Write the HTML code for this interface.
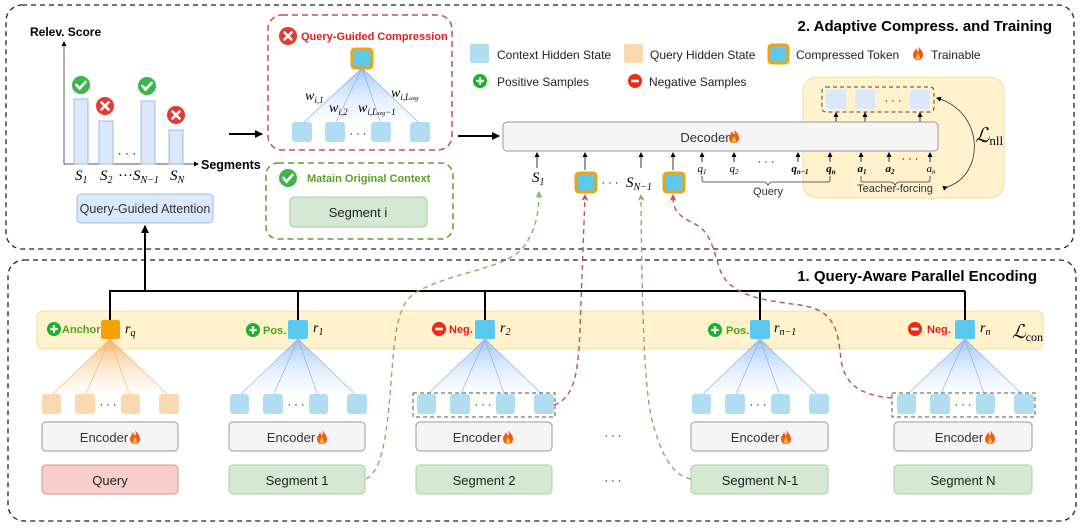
<!DOCTYPE html>
<html><head><meta charset="utf-8"><style>
html,body{margin:0;padding:0;background:#fff;}
svg{display:block;}
.t{font-family:"Liberation Sans",sans-serif;}
.m{font-family:"Liberation Serif",serif;font-style:italic;}
</style></head><body>
<svg width="1080" height="528" viewBox="0 0 1080 528" xmlns="http://www.w3.org/2000/svg">
<defs>
<linearGradient id="gb" x1="0" y1="0" x2="0" y2="1"><stop offset="0" stop-color="#8dbbff" stop-opacity="0.85"/><stop offset="1" stop-color="#dceaff" stop-opacity="0.05"/></linearGradient>
<linearGradient id="go" x1="0" y1="0" x2="0" y2="1"><stop offset="0" stop-color="#f5ad5a" stop-opacity="0.85"/><stop offset="1" stop-color="#fbe6cc" stop-opacity="0.05"/></linearGradient>
<marker id="ah" markerWidth="8" markerHeight="8" refX="7" refY="4" orient="auto" markerUnits="userSpaceOnUse"><path d="M0,0 L8,4 L0,8 z" fill="#000"/></marker>
<marker id="as" markerWidth="5" markerHeight="5" refX="4" refY="2.5" orient="auto" markerUnits="userSpaceOnUse"><path d="M0,0 L5,2.5 L0,5 z" fill="#000"/></marker>
<marker id="ag" markerWidth="7" markerHeight="7" refX="5" refY="3.5" orient="auto" markerUnits="userSpaceOnUse"><path d="M0,0 L7,3.5 L0,7 L2,3.5 z" fill="#82b366"/></marker>
<marker id="ar" markerWidth="7" markerHeight="7" refX="5" refY="3.5" orient="auto" markerUnits="userSpaceOnUse"><path d="M0,0 L7,3.5 L0,7 L2,3.5 z" fill="#b85450"/></marker>
<g id="fl"><path d="M5,0 C7,3 10,5 10,9 C10,12 8,14 5,14 C2,14 0,12 0,9 C0,6 2,5 3,2 C4,5 5,5 5,6 C6,4 6,2 5,0 Z" fill="#f05a1a"/><path d="M5,7 C6,9 7,10 7,11.5 C7,13 6,13.5 5,13.5 C4,13.5 3,13 3,11.5 C3,10 4,9 5,7 Z" fill="#ffc02a"/></g>
<g id="ck"><circle r="9" fill="#3cb54a"/><path d="M-4.5,0 L-1.5,3.5 L4.5,-3" stroke="#fff" stroke-width="2.6" fill="none" stroke-linecap="round"/></g>
<g id="xx"><circle r="9" fill="#e53935"/><path d="M-3.5,-3.5 L3.5,3.5 M3.5,-3.5 L-3.5,3.5" stroke="#fff" stroke-width="2.6" stroke-linecap="round"/></g>
<g id="pl"><circle r="7" fill="#19b22b"/><path d="M-3.8,0 H3.8 M0,-3.8 V3.8" stroke="#fff" stroke-width="2.2"/></g>
<g id="mi"><circle r="7" fill="#ee2a12"/><path d="M-3.8,0 H3.8" stroke="#fff" stroke-width="2.6"/></g>
</defs>

<rect x="6" y="5" width="1068" height="244" rx="16" fill="none" stroke="#222" stroke-width="1.3" stroke-dasharray="5,4"/>
<rect x="8" y="260" width="1068" height="261" rx="16" fill="none" stroke="#222" stroke-width="1.3" stroke-dasharray="5,4"/>
<text class="t" x="1052" y="31" font-size="15" font-weight="bold" text-anchor="end">2. Adaptive Compress. and Training</text>
<text class="t" x="1037" y="281" font-size="15" font-weight="bold" text-anchor="end">1. Query-Aware Parallel Encoding</text>

<text class="t" x="30" y="36" font-size="12" font-weight="bold">Relev. Score</text>
<line x1="64" y1="164" x2="64" y2="42" stroke="#555" marker-end="url(#as)"/>
<line x1="64" y1="164" x2="198" y2="164" stroke="#555" marker-end="url(#as)"/>
<text class="t" x="201" y="169" font-size="12.5" font-weight="bold">Segments</text>
<g fill="#dae8fc" stroke="#9fbbe6"><rect x="74" y="99" width="14" height="65"/><rect x="99" y="121" width="14" height="43"/><rect x="141" y="101" width="14" height="63"/><rect x="169" y="130" width="14" height="34"/></g>
<use href="#ck" x="81" y="85"/><use href="#xx" x="105" y="106"/><use href="#ck" x="147" y="86"/><use href="#xx" x="176" y="115"/>
<text class="t" x="127" y="157" font-size="12" text-anchor="middle">· · ·</text>
<g class="m" font-size="15"><text x="75" y="180">S<tspan font-size="10" dy="3">1</tspan></text><text x="100" y="180">S<tspan font-size="10" dy="3">2</tspan></text><text x="118" y="180"><tspan font-style="normal">···</tspan>S<tspan font-size="10" dy="3">N−1</tspan></text><text x="170" y="180">S<tspan font-size="10" dy="3">N</tspan></text></g>
<rect x="77" y="194" width="136" height="29" rx="4" fill="#dae8fc" stroke="#9fbbe6"/>
<text class="t" x="145" y="213" font-size="12.5" text-anchor="middle" fill="#333">Query-Guided Attention</text>
<line x1="145" y1="291" x2="145" y2="226" stroke="#000" stroke-width="2" marker-end="url(#ah)"/>

<line x1="229" y1="134" x2="262" y2="134" stroke="#000" stroke-width="2" marker-end="url(#ah)"/>

<rect x="268" y="15" width="184" height="135" rx="14" fill="none" stroke="#c0504d" stroke-width="1.5" stroke-dasharray="6,4"/>
<use href="#xx" x="288" y="36"/>
<text class="t" x="301" y="40" font-size="11" font-weight="bold" fill="#e02020">Query-Guided Compression</text>
<path d="M362,68 L302,124 L420,124 Z" fill="url(#gb)"/>
<g stroke="#8aa8d8" stroke-width="0.6"><line x1="362" y1="68" x2="302" y2="124"/><line x1="362" y1="68" x2="335" y2="124"/><line x1="362" y1="68" x2="381" y2="124"/><line x1="362" y1="68" x2="420" y2="124"/></g>
<rect x="352" y="49" width="20" height="19" rx="3" fill="#5bc8ef" stroke="#f0a30a" stroke-width="3"/>
<g fill="#b1ddf0"><rect x="292" y="122" width="20" height="20" rx="3"/><rect x="325" y="122" width="20" height="20" rx="3"/><rect x="371" y="122" width="20" height="20" rx="3"/><rect x="410" y="122" width="20" height="20" rx="3"/></g>
<text class="t" x="358" y="137" font-size="11" text-anchor="middle">· · ·</text>
<g class="m" font-size="14"><text x="305" y="100">w<tspan font-size="9" dy="3">i,1</tspan></text><text x="329" y="112">w<tspan font-size="9" dy="3">i,2</tspan></text><text x="358" y="112">w<tspan font-size="9" dy="3">i,L<tspan font-size="6">seg</tspan>−1</tspan></text><text x="391" y="97">w<tspan font-size="9" dy="3">i,L<tspan font-size="6">seg</tspan></tspan></text></g>

<rect x="266" y="163" width="187" height="76" rx="12" fill="none" stroke="#5fa02a" stroke-width="1.5" stroke-dasharray="6,4"/>
<use href="#ck" x="288" y="178"/>
<text class="t" x="307" y="182" font-size="11" font-weight="bold" fill="#5aa31e">Matain Original Context</text>
<rect x="290" y="197" width="137" height="30" rx="4" fill="#d5e8d4" stroke="#a9cf9a"/>
<text class="t" x="358" y="217" font-size="13" text-anchor="middle" fill="#222">Segment i</text>

<rect x="470" y="44" width="19" height="19" rx="2" fill="#b1ddf0"/>
<text class="t" x="497" y="59" font-size="12" fill="#222">Context Hidden State</text>
<rect x="624" y="44" width="19" height="19" rx="2" fill="#fad9b0"/>
<text class="t" x="650" y="59" font-size="12" fill="#222">Query Hidden State</text>
<rect x="769" y="45" width="19" height="18" rx="3" fill="#5bc8ef" stroke="#f0a30a" stroke-width="3"/>
<text class="t" x="796" y="59" font-size="12" fill="#222">Compressed Token</text>
<use href="#fl" x="913" y="46"/>
<text class="t" x="931" y="59" font-size="12" fill="#222">Trainable</text>
<use href="#pl" x="480" y="81"/>
<text class="t" x="497" y="86" font-size="12" fill="#222">Positive Samples</text>
<use href="#mi" x="635" y="81"/>
<text class="t" x="649" y="86" font-size="12" fill="#222">Negative Samples</text>

<rect x="803" y="77" width="201" height="121" rx="14" fill="#fff2cc" stroke="#f3dca0"/>
<rect x="822" y="87" width="112" height="25" rx="4" fill="none" stroke="#444" stroke-dasharray="4,3"/>
<g fill="#dae8fc"><rect x="826" y="90" width="20" height="19" rx="2"/><rect x="855" y="90" width="20" height="19" rx="2"/><rect x="910" y="90" width="20" height="19" rx="2"/></g>
<text class="t" x="893" y="104" font-size="11" text-anchor="middle">· · ·</text>
<g stroke="#000" stroke-width="0.8"><line x1="836" y1="122" x2="836" y2="113" marker-end="url(#as)"/><line x1="865" y1="122" x2="865" y2="113" marker-end="url(#as)"/><line x1="920" y1="122" x2="920" y2="113" marker-end="url(#as)"/></g>
<path d="M947,187 C985,175 985,112 937,98" fill="none" stroke="#333" stroke-width="0.8" marker-end="url(#as)" marker-start="url(#as)"/>
<text x="975" y="142" font-family="Liberation Serif,serif" font-size="20" font-style="italic">ℒ<tspan font-size="13" font-style="normal" dy="3">nll</tspan></text>

<line x1="458" y1="136" x2="499" y2="136" stroke="#000" stroke-width="2" marker-end="url(#ah)"/>
<rect x="503" y="122" width="435" height="29" rx="4" fill="#f5f5f5" stroke="#999"/>
<text class="t" x="705" y="142" font-size="13" text-anchor="middle" fill="#333">Decoder</text>
<use href="#fl" x="729" y="129"/>
<g stroke="#000" stroke-width="0.8">
<line x1="537" y1="168" x2="537" y2="153" marker-end="url(#as)"/><line x1="585" y1="170" x2="585" y2="153" marker-end="url(#as)"/><line x1="641" y1="168" x2="641" y2="153" marker-end="url(#as)"/><line x1="673" y1="170" x2="673" y2="153" marker-end="url(#as)"/>
<line x1="702" y1="162" x2="702" y2="153" marker-end="url(#as)"/><line x1="734" y1="162" x2="734" y2="153" marker-end="url(#as)"/><line x1="798" y1="162" x2="798" y2="153" marker-end="url(#as)"/><line x1="830" y1="162" x2="830" y2="153" marker-end="url(#as)"/>
<line x1="861" y1="162" x2="861" y2="153" marker-end="url(#as)"/><line x1="889" y1="162" x2="889" y2="153" marker-end="url(#as)"/><line x1="930" y1="162" x2="930" y2="153" marker-end="url(#as)"/>
</g>
<g class="m" font-size="11" text-anchor="middle"><text x="702" y="172">q<tspan font-size="7" dy="2">1</tspan></text><text x="734" y="172">q<tspan font-size="7" dy="2">2</tspan></text><text x="800" y="172" font-weight="bold">q<tspan font-size="7" dy="2">n−1</tspan></text><text x="831" y="172" font-weight="bold">q<tspan font-size="7" dy="2">n</tspan></text><text x="862" y="172" font-weight="bold">a<tspan font-size="7" dy="2">1</tspan></text><text x="890" y="172" font-weight="bold">a<tspan font-size="7" dy="2">2</tspan></text><text x="931" y="172">a<tspan font-size="7" dy="2">n</tspan></text></g>
<text class="t" x="766" y="165" font-size="11" text-anchor="middle">· · ·</text>
<text class="t" x="910" y="162" font-size="11" text-anchor="middle">· · ·</text>
<path d="M702,176 v4 q0,2 2,2 h60 q2,0 4,3 q2,-3 4,-3 h56 q2,0 2,-2 v-4" fill="none" stroke="#333" stroke-width="0.8"/>
<text class="t" x="768" y="195" font-size="11" text-anchor="middle" fill="#333">Query</text>
<path d="M861,176 v4 q0,2 2,2 h28 q2,0 4,3 q2,-3 4,-3 h29 q2,0 2,-2 v-4" fill="none" stroke="#333" stroke-width="0.8"/>
<text class="t" x="895" y="192" font-size="11" text-anchor="middle" fill="#333">Teacher-forcing</text>
<text class="m" x="532" y="182" font-size="15">S<tspan font-size="10" dy="3">1</tspan></text>
<rect x="576" y="173" width="20" height="19" rx="3" fill="#5bc8ef" stroke="#f0a30a" stroke-width="3"/>
<text class="t" x="610" y="186" font-size="11" text-anchor="middle">· · ·</text>
<text class="m" x="626" y="187" font-size="15">S<tspan font-size="10" dy="3">N−1</tspan></text>
<rect x="664" y="173" width="20" height="19" rx="3" fill="#5bc8ef" stroke="#f0a30a" stroke-width="3"/>

<rect x="37" y="311" width="1006" height="38" rx="6" fill="#fff2cc" stroke="#f3dca0"/>
<g stroke="#000" stroke-width="2" fill="none">
<line x1="110" y1="291" x2="965" y2="291"/>
<line x1="110" y1="290" x2="110" y2="321"/><line x1="298" y1="291" x2="298" y2="321"/><line x1="485" y1="291" x2="485" y2="321"/><line x1="760" y1="291" x2="760" y2="321"/><line x1="965" y1="291" x2="965" y2="321"/>
</g>

<g>
<path d="M110,339 L51,396 L169,396 Z" fill="url(#go)"/>
<g stroke="#f0b070" stroke-width="0.6"><line x1="110" y1="339" x2="51" y2="396"/><line x1="110" y1="339" x2="85" y2="396"/><line x1="110" y1="339" x2="130" y2="396"/><line x1="110" y1="339" x2="169" y2="396"/></g>
<g fill="#fad9b0"><rect x="42" y="394" width="19" height="20" rx="3"/><rect x="75" y="394" width="20" height="20" rx="3"/><rect x="121" y="394" width="19" height="20" rx="3"/><rect x="159" y="394" width="20" height="20" rx="3"/></g>
<text class="t" x="108" y="408" font-size="11" text-anchor="middle">· · ·</text>
<rect x="101" y="320" width="19" height="19" rx="2" fill="#f0a30a"/>
</g>
<g id="grpB">
<path d="M298,339 L239,396 L357,396 Z" fill="url(#gb)"/>
<g stroke="#8aa8d8" stroke-width="0.6"><line x1="298" y1="339" x2="239" y2="396"/><line x1="298" y1="339" x2="273" y2="396"/><line x1="298" y1="339" x2="318" y2="396"/><line x1="298" y1="339" x2="357" y2="396"/></g>
<g fill="#b1ddf0"><rect x="230" y="394" width="19" height="20" rx="3"/><rect x="263" y="394" width="20" height="20" rx="3"/><rect x="309" y="394" width="19" height="20" rx="3"/><rect x="347" y="394" width="20" height="20" rx="3"/></g>
<text class="t" x="296" y="408" font-size="11" text-anchor="middle">· · ·</text>
<rect x="288" y="320" width="20" height="19" rx="2" fill="#5bc8ef"/>
</g>
<use href="#grpB" x="187"/>
<use href="#grpB" x="462"/>
<use href="#grpB" x="667"/>
<rect x="413" y="393" width="142" height="24" fill="none" stroke="#555" stroke-dasharray="4,3"/>
<rect x="892" y="393" width="143" height="24" fill="none" stroke="#555" stroke-dasharray="4,3"/>

<g fill="#f5f5f5" stroke="#999"><rect x="42" y="422" width="136" height="29" rx="4"/><rect x="229" y="422" width="136" height="29" rx="4"/><rect x="416" y="422" width="136" height="29" rx="4"/><rect x="691" y="422" width="137" height="29" rx="4"/><rect x="894" y="422" width="138" height="29" rx="4"/></g>
<g class="t" font-size="13" fill="#333" text-anchor="middle"><text x="104" y="442">Encoder</text><text x="291" y="442">Encoder</text><text x="477" y="442">Encoder</text><text x="755" y="442">Encoder</text><text x="959" y="442">Encoder</text></g>
<use href="#fl" x="130" y="430"/><use href="#fl" x="317" y="430"/><use href="#fl" x="503" y="430"/><use href="#fl" x="781" y="430"/><use href="#fl" x="985" y="430"/>
<rect x="42" y="465" width="136" height="29" rx="4" fill="#f8cecc" stroke="#e0908c"/>
<g fill="#d5e8d4" stroke="#a9cf9a"><rect x="229" y="465" width="136" height="29" rx="4"/><rect x="416" y="465" width="136" height="29" rx="4"/><rect x="691" y="465" width="137" height="29" rx="4"/><rect x="894" y="465" width="138" height="29" rx="4"/></g>
<g class="t" font-size="13" fill="#222" text-anchor="middle"><text x="110" y="485">Query</text><text x="297" y="485">Segment 1</text><text x="484" y="485">Segment 2</text><text x="760" y="485">Segment N-1</text><text x="963" y="485">Segment N</text></g>
<text class="t" x="613" y="439" font-size="11" text-anchor="middle">· · ·</text>
<text class="t" x="613" y="484" font-size="11" text-anchor="middle">· · ·</text>

<use href="#pl" x="54" y="329"/><text class="t" x="62" y="333" font-size="11" font-weight="bold" fill="#4aa41a">Anchor</text>
<use href="#pl" x="253" y="330"/><text class="t" x="263" y="334" font-size="11" font-weight="bold" fill="#4aa41a">Pos.</text>
<use href="#mi" x="439" y="329"/><text class="t" x="449" y="333" font-size="11" font-weight="bold" fill="#e02020">Neg.</text>
<use href="#pl" x="715" y="330"/><text class="t" x="726" y="334" font-size="11" font-weight="bold" fill="#4aa41a">Pos.</text>
<use href="#mi" x="915" y="329"/><text class="t" x="927" y="333" font-size="11" font-weight="bold" fill="#e02020">Neg.</text>
<g class="m" font-size="14"><text x="125" y="333">r<tspan font-size="10" dy="3">q</tspan></text><text x="313" y="332">r<tspan font-size="10" dy="3">1</tspan></text><text x="500" y="332">r<tspan font-size="10" dy="3">2</tspan></text><text x="774" y="332">r<tspan font-size="10" dy="3">n−1</tspan></text><text x="980" y="332">r<tspan font-size="10" dy="3">n</tspan></text></g>
<text x="1012" y="338" font-family="Liberation Serif,serif" font-size="19" font-style="italic">ℒ<tspan font-size="12" font-style="normal" dy="3">con</tspan></text>

<g fill="none" stroke-width="1.4" stroke-dasharray="5,4">
<path d="M366,479 C385,470 388,420 392,370 C396,320 400,300 420,290 C460,270 510,268 525,245 C535,230 539,215 539,193" stroke="#82b366" marker-end="url(#ag)"/>
<path d="M554,405 C574,398 578,375 580,330 L585,196" stroke="#b85450" marker-end="url(#ar)"/>
<path d="M691,479 C670,475 660,450 652,420 C645,390 642,330 641,196" stroke="#82b366" marker-end="url(#ag)"/>
<path d="M892,398 C860,395 845,385 841,360 C838,330 835,310 800,305 C760,300 730,295 720,270 C712,245 710,232 695,224 C678,216 673,210 673,196" stroke="#b85450" marker-end="url(#ar)"/>
</g>
</svg>
</body></html>
